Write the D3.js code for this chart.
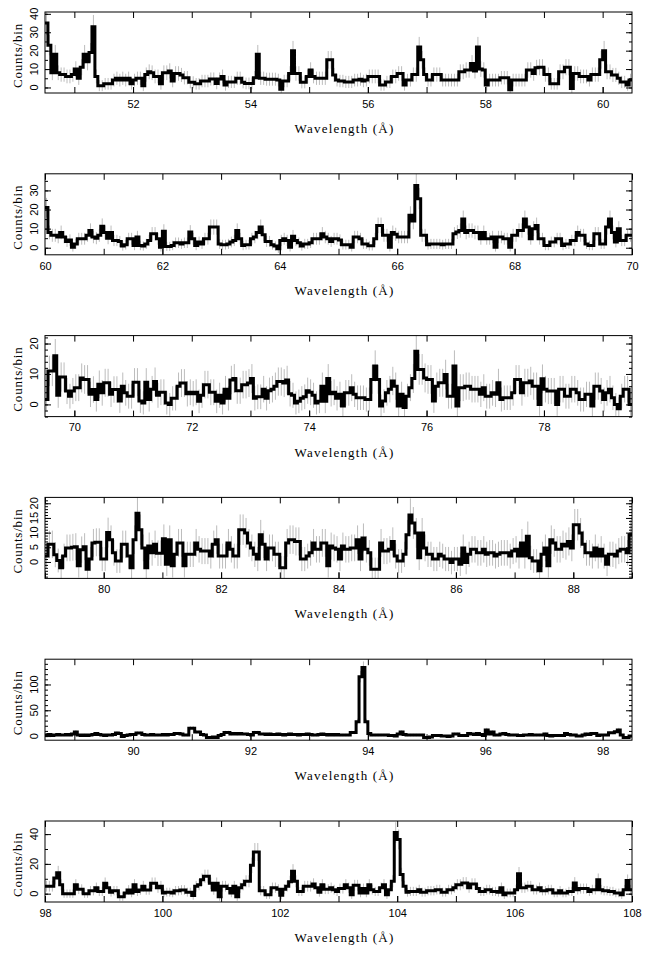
<!DOCTYPE html>
<html><head><meta charset="utf-8">
<script src="https://cdn.jsdelivr.net/npm/d3@7"></script>
<style>body{margin:0;background:#fff}svg{display:block}</style>
</head><body><svg id="c" width="652" height="955"></svg>
<script>
const binWidth = 0.05;
const rangeStart = [50.5, 60, 69.5, 79, 88.5, 98];
const yRanges = [[-3, 41], [-3.7, 38.7], [-4, 22.6], [-5.6, 22], [-8, 149], [-5.6, 48.8]];
const yTickVals = [[0,10,20,30,40],[0,10,20,30],[0,10,20],[0,5,10,15,20],[0,50,100],[0,20,40]];
const yMinorStep = [5, 5, 2, 1, 10, 10];
const bkg = [8, 5, 14, 16, 4, 8];

const p1 = [35,23,8,18,8,7,7,6,6,7, 10,5,11,18,14,19,33,6,1,1, 2,2,2,4,5,4,5,4,5,2, 4,5,5,1,7,8.5,8,6,6,2,
 8,8,9,3.5,7.6,7.6,6.8,5.3,5.3,2.8, 2.8,2,2,3.5,3.5,3.5,4.6,4.6,2.2,4.6, 6,1.3,3,3,3,5,5,2.8,2.2,2.2,
 2.2,5.3,18,5,5,4.5,4.5,4.5,4.5,4, -1,3.5,3.5,7.6,20,7.6,7.6,2.8,2.8,6, 9.5,6,5,5,5,5,15,15,6.8,4,
 3.5,3.5,3,3,3,4,4,4.5,3.5,4, 6,6,6,6,1.3,1.3,3,3,6,6, 7.6,7.6,1.3,4,4,7,7,22,15,7, 4,4,7,7,7,4,4,4,4,4,
 4,8.5,8.5,9.5,9.5,13,9,22,10,9.5, 1.3,4,4,4,4,5.3,5.3,5.3,-1.3,4, 4,4,4,4,9.5,9.5,7.6,10.7,11,11,
 7,7,2,2,2,8.5,8.5,11,11,-0.5, 7.6,7.6,6,6,6,4,7,7,7,15, 20,8.5,8.5,6.8,6.8,5,3,3,1.3,4];
const p2 = [21,8,6.5,6.5,5.6,8,5.6,3.3,4,0.3, 2,4.7,4.7,4.7,6.5,9,5.6,5,6.5,11.3, 8,5,8,3.8,3.8,3.3,0.9,1.6,4.7,4.7,
 1.2,5.6,1.2,0.9,2,3.8,7.3,7.3,4.7,0.3, 8.6,0.7,0.7,1.2,2.6,2.6,2,2.6,2.6,8.2, 4.7,1.2,3,2,4.7,4.7,10.8,10.8,10.8,2,
 1.6,1.6,2,3,3.8,9,4.7,1.2,1.6,1.6, 4.7,5.6,8,10.8,6.8,3.3,3.3,1.6,0.9,-0.5, 3.8,4.7,3.8,0.3,6,3.8,2.6,0.9,2,2,
 2.6,4.7,4.7,4.7,7.3,5.6,4.7,3.3,4.7,4.7, 4,1.6,1.6,1.6,0.3,5.6,5.6,4.7,2,2, 1,1,4.7,11.7,11.7,6.5,6.5,0.3,8,7,
 5.6,5.6,5.6,5.6,17,14,32.6,25.7,6.5,6.5, 1.6,2,2,2,2,1.6,2,2,2,7.3, 8.2,9,15,8,9,9,8,8,4.7,8,
 4.7,4.7,5.6,0.3,5.6,5.6,4.7,4.7,0.3,6.5, 6.5,9,9,15,10.8,4.7,10,11.7,4.7,4.7, 1.2,1.2,3,3,4.7,4.7,1.2,2,2,3.8,
 3.8,8,6.5,6.5,2,1.2,1.2,7.3,7.3,2, 2,10.8,15,8,3,10,3.8,3.8,6.5,6.5];
const p3 = [1.6,11,11,16,3,9,9,4.4,2.7,4.4, 5.5,5.5,8.7,8.2,8.2,3.3,4.9,1.6,6.6,3.8, 7.1,7.1,3.3,4.9,4.9,1.1,6,3.8,2.7,2.7,
 7.3,7.3,1.1,0.5,7.3,1.6,5,7.5,3,4, 4,0.5,0,2,2,6,7,7,3.5,4, 3.5,4,1,3,6.5,6.5,4,4,1,3,
 0.5,5,2,8,8.5,4.5,4.5,6.5,6.5,7, 8.5,2,2.5,2.5,5,2,4.5,5,6,7.5, 7.5,7,8,3.5,3,0.5,1,2,2.5,4.5,
 4,3,0.5,1,6,1,8.5,3.5,4,2, 3.3,-0.5,3.8,3.8,5.5,3.3,2.2,2.2,2.2,1.6, 1.6,8.2,12.6,8.2,-0.5,1.1,3.8,5,7.7,6,
 -0.5,3.3,-1,2.7,5.5,8.5,17.5,11.5,11.5,8.7, 8.2,8.2,1.1,6,7.1,7.1,9.8,2.7,2.7,12.6, -0.5,5.5,5.5,6,6,5,5,5,3.3,5.5,
 2.7,2.7,3.8,3.3,7.1,1.6,2.2,2.2,2.2,3.8, 8.2,8.2,3.8,7.1,7.1,7.7,6,6,0,8.4, 5,4.4,4.4,4.4,0,5,5,2.7,2.7,5,
 5,3.8,1.6,1.6,3.3,3.3,-0.5,6,6,4.4, 1.6,3.8,5,2.2,0,-1.4,2.7,5,5,0];
const p4 = [2,6,6,2.5,0.5,-2,2,4.8,4.8,5, 5.2,-1.3,4.2,5.2,-2.5,1,6.5,6.7,6.7,1, 1,10,7.6,3.1,0.3,0.3,6,6,2,-2,
 7.6,16.6,11,4.8,-2,5.4,3.1,6,3,3, 7.9,-0.8,7.6,-1.3,2.6,6.5,6.5,-1.3,2.6,2.6, 2.6,6.5,4.3,3.7,3.7,3.7,2,6,7.6,2,
 2,2,6.5,4.3,2,2,11,11,9.9,6.5, 4.8,2.6,1,9.3,6,1,4.8,4.8,2.6,2.6, -2,-2,6.5,7.6,7.6,7,7,1,1,2,
 3.1,6.5,4.3,4.3,6.5,6.5,-1.3,5.4,4.8,4.3, 1,5.4,4.3,4.3,4.8,4.8,7.6,1,8.2,4.3, 3.1,-2.5,-2.5,-2.5,6.5,3.7,3.7,4.3,7,2,
 0.3,0.3,2.6,9.3,16,13.3,9.9,1.4,9.9,4.8, 2.6,2.6,1,1,2.6,2,1,1,-0.2,1, 1,-0.8,4.8,-0.2,2.6,4.3,4.3,3.1,3.1,4.3,
 2.6,3.1,3.1,2,2.6,3.1,3.1,3.1,2,3.7, 4.3,2,6.5,2,8.8,1.4,0.3,0.3,-3,2.6, 4.8,-1.3,7.6,6.5,4.3,4.3,6,5.4,7,4.8,
 12.7,12.7,9.9,6,3.1,3.1,2,4.8,2,4.3, 2,-0.8,2.6,2.6,2,3.7,4.3,4.3,3.1,9.3];
const p5 = [2,3,1,2,3,2,2,3,2,4, 8,2,1,2,1,2,3,5,3,2, 1,2,2,3,6,5,-1,1,2,3, 3,6,6,3,2,2,3,2,2,2,
 3,2,3,3,5,5,4,2,2,15, 15,8,8,3,2,-3,-3,-2,-3,1, 3,7,7,4,5,4,5,4,4,3, 2,7,7,4,4,3,4,3,3,4,
 3,2,3,4,3,3,2,3,3,4, 3,2,2,3,4,3,2,3,2,3, 2,2,2,2,7,7,28,115,133,28, 5,2,2,2,2,2,2,1,1,0,
 4,8,3,2,2,2,2,2,2,-3, -3,-2,1,1,1,0,0,-1,0,4, 4,1,1,1,5,4,3,5,3,1, 12,4,8,2,2,4,5,3,2,2,
 2,1,1,2,2,3,2,2,2,2, 4,1,0,1,1,1,1,5,3,2, 2,0,0,2,4,3,5,5,1,2, 2,2,6.5,6.5,8.5,12,2,-3,-3,0];
const p6 = [5,5,5,10.5,14,6,0,0,0,0, 6,3,3,0,0,2,2,4,1.5,1.5, 7,4,1,2,2,-2,-2,0.5,2.5,0.5, 6,1.5,2.5,5,2.5,2.5,7,7,4,5,
 0.5,1,1,0.5,2,2,2.5,2.5,1,1, -1.3,5,6,9.4,11.7,11.7,7,2.5,7,-2, 5,5,3.4,0.5,5,-2,4,6,8.3,8.3,
 19,28,28,2,2,-0.7,-0.7,4,4,3, -1,3,5,8,15,8.3,1.5,1.5,5,5, 5,6.5,4,1,6,3,3,4,2.7,1.5,
 3.4,3.4,6,4,-0.7,5.6,5.6,0.5,3.4,0.5, 6,2.7,1.5,1.5,4,6,-0.7,2.7,8.3,41, 36.4,12.8,5,1,1.5,1.5,1.5,2.7,1,1,
 2,2,2,2.7,2.7,1,1,2.7,2.7,4, 6,6,7.2,7.2,4,6.5,6.5,3.4,1.5,1.5, 2.7,2.7,1.5,1.5,1,4,-0.7,0.5,0.5,0.5,
 2.7,13.3,4,4,5,5,2.7,2.7,4,2, 2,2.7,2.7,0.5,0.5,2,0.5,0.5,1.5,1.5, 7.2,2.7,3.4,3.4,3.4,1.5,2.7,2.7,9.4,2.7,
 2,2,1.5,1.5,0.5,0.5,-0.7,2.7,8.8,2.7];
const panels = [p1, p2, p3, p4, p5, p6];

const svg = d3.select('#c');
const L = 45, R = 632, PH = 81, TOP0 = 12, STEP = 161.8;
const tickFont = '"Liberation Sans", Arial, sans-serif';
const titleFont = '"Liberation Serif", "Times New Roman", serif';

panels.forEach((vals, k) => {
  const top = TOP0 + k * STEP, bot = top + PH;
  const x0 = rangeStart[k], x1 = x0 + vals.length * binWidth;
  const x = d3.scaleLinear().domain([x0, x1]).range([L, R]);
  const y = d3.scaleLinear().domain(yRanges[k]).range([bot, top]);
  const g = svg.append('g');
  const cid = 'clip' + k;
  svg.append('clipPath').attr('id', cid).append('rect')
    .attr('x', L).attr('y', top).attr('width', R - L).attr('height', PH);
  const data = vals.map((v, i) => ({lo: x0 + i * binWidth, v, e: Math.sqrt(Math.max(v, 0) + bkg[k])}));
  const pg = g.append('g').attr('clip-path', `url(#${cid})`);
  pg.selectAll('line.err').data(data).join('line')
    .attr('x1', d => x(d.lo + binWidth / 2)).attr('x2', d => x(d.lo + binWidth / 2))
    .attr('y1', d => y(d.v - d.e)).attr('y2', d => y(d.v + d.e))
    .attr('stroke', '#bcbcbc').attr('stroke-width', 1);
  const pts = data.map(d => [d.lo, d.v]);
  pts.push([x1, vals[vals.length - 1]]);
  const line = d3.line().x(d => x(d[0])).y(d => y(d[1])).curve(d3.curveStepAfter);
  pg.append('path').attr('d', line(pts)).attr('fill', 'none')
    .attr('stroke', '#000').attr('stroke-width', 3).attr('stroke-linejoin', 'miter');

  // axes
  const ints = d3.range(Math.ceil(x0), Math.floor(x1) + 1);
  const even = ints.filter(v => v % 2 === 0);
  const ax = d3.axisBottom(x).tickValues(even).tickSize(-6).tickPadding(7).tickFormat(d3.format('d'));
  const gb = g.append('g').attr('transform', `translate(0,${bot})`).call(ax);
  g.append('g').attr('transform', `translate(0,${bot})`).call(d3.axisBottom(x).tickValues(ints).tickSize(-6).tickFormat(''));
  g.append('g').attr('transform', `translate(0,${top})`).call(d3.axisTop(x).tickValues(ints).tickSize(-6).tickFormat(''));
  const yd = yRanges[k];
  const minors = d3.range(Math.ceil(yd[0] / yMinorStep[k]) * yMinorStep[k], yd[1], yMinorStep[k]);
  g.append('g').attr('transform', `translate(${L},0)`).call(d3.axisLeft(y).tickValues(yTickVals[k]).tickSize(-6).tickFormat(''));
  g.append('g').attr('transform', `translate(${R},0)`).call(d3.axisRight(y).tickValues(yTickVals[k]).tickSize(-6).tickFormat(''));
  g.append('g').attr('transform', `translate(${L},0)`).call(d3.axisLeft(y).tickValues(minors).tickSize(-3).tickFormat(''));
  g.append('g').attr('transform', `translate(${R},0)`).call(d3.axisRight(y).tickValues(minors).tickSize(-3).tickFormat(''));
  g.selectAll('.domain').remove();
  g.selectAll('.tick line').attr('stroke', '#000');
  gb.selectAll('text').attr('font-family', tickFont).attr('font-size', 11).attr('fill', '#000');
  g.selectAll('text.yl').data(yTickVals[k]).join('text')
    .attr('transform', d => `translate(38,${y(d)}) rotate(-90)`)
    .attr('text-anchor', 'middle').attr('font-family', tickFont).attr('font-size', 11)
    .text(d => d);
  g.append('rect').attr('x', L).attr('y', top).attr('width', R - L).attr('height', PH)
    .attr('fill', 'none').attr('stroke', '#000').attr('stroke-width', 1);
  g.append('text').attr('x', (L + R) / 2 + 6).attr('y', bot + 40).attr('text-anchor', 'middle')
    .attr('font-family', titleFont).attr('font-size', 13).attr('letter-spacing', 1.2)
    .text('Wavelength (Å)');
  g.append('text').attr('transform', `translate(22,${(top + bot) / 2 + 3}) rotate(-90)`)
    .attr('text-anchor', 'middle').attr('font-family', titleFont).attr('font-size', 13)
    .attr('letter-spacing', 0.8).text('Counts/bin');
});
</script></body></html>
